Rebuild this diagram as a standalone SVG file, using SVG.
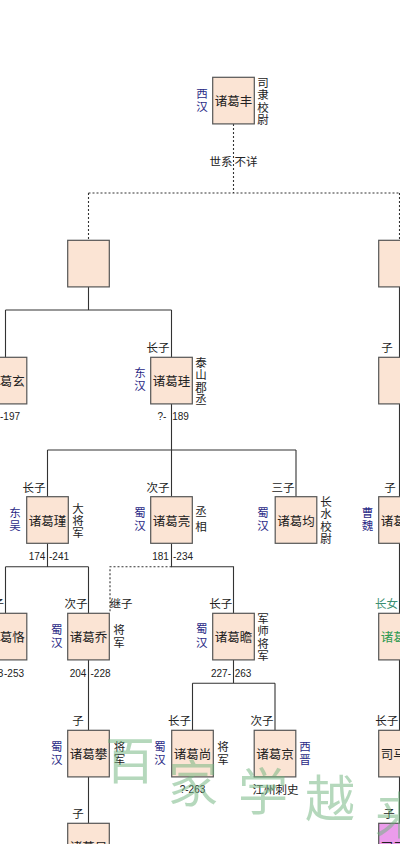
<svg xmlns="http://www.w3.org/2000/svg" width="400" height="844" viewBox="0 0 400 844">
<style>
.bg{fill:#ffffff}
.box{fill:#fbe4d4;stroke:#555;stroke-width:1.2}
.pink{fill:#eb9ceb;stroke:#555;stroke-width:1.2}
.ln{stroke:#333;stroke-width:1.1;fill:none}
.dl{stroke:#333;stroke-width:1.1;fill:none;stroke-dasharray:2,2}
text{font-family:"Noto Sans CJK SC","Noto Sans",sans-serif;dominant-baseline:central}
.nm{font-size:12.5px;fill:#222;text-anchor:middle}
.lb{font-size:11.5px;fill:#222;text-anchor:middle}
.v{writing-mode:vertical-rl;letter-spacing:1px}
.v2{writing-mode:vertical-rl;letter-spacing:2px}
.bl{font-size:11.5px;fill:#2a2a86;text-anchor:middle}
.gr{font-size:11.5px;fill:#3c8f72;text-anchor:middle}
.gn{font-size:12.5px;fill:#2e9a52;text-anchor:middle}
.dt{font-family:"Liberation Sans",Arial,sans-serif;font-size:10px;fill:#222;text-anchor:middle}
.wm{font-family:"Noto Sans CJK SC",serif;font-size:50px;fill:#6db37c;opacity:0.5;text-anchor:middle}
</style>
<rect class="bg" x="0" y="0" width="400" height="844"/>

<g id="connectors">
  <path class="dl" d="M233.5 124 V193 M88.5 193 H399.5 M88.5 193 V240.3 M399.5 193 V240.3"/>
  <path class="ln" d="M88.5 287 V310 M5.5 310 H171.5 M5.5 310 V357.3 M171.5 310 V357.3"/>
  <path class="ln" d="M171.5 404 V450 M47.5 450 H296 M47.5 450 V496.7 M171.5 450 V496.7 M296 450 V496.7"/>
  <path class="ln" d="M47.5 543.3 V566.7 M5.5 566.7 H88.5 M5.5 566.7 V613.3 M88.5 566.7 V613.3"/>
  <path class="ln" d="M171.5 543.3 V566.7 H233.5 V613.3"/>
  <path class="dl" d="M171.5 566.7 H110 V613.3"/>
  <path class="ln" d="M88.5 660 V730.3 M88.5 777 V823.3"/>
  <path class="ln" d="M233.5 660 V683.3 M192.5 683.3 H275 M192.5 683.3 V730.3 M275 683.3 V730.3"/>
  <path class="ln" d="M399.5 287 V357.3 M399.5 404 V496.7 M399.5 543.3 V613.3 M399.5 660 V730.3 M399.5 777 V823.3"/>
</g>

<g id="n-zhugefeng">
  <rect class="box" x="212.7" y="77.3" width="41.6" height="46.6"/>
  <text class="nm" x="233.5" y="100.6">诸葛丰</text>
  <text class="bl v2" x="202" y="101">西汉</text>
  <text class="lb v" x="263" y="101.5">司隶校尉</text>
  <text class="lb" x="221" y="161">世系</text>
  <text class="lb" x="246" y="161">不详</text>
</g>

<g id="n-unknown1">
  <rect class="box" x="67.7" y="240.3" width="41.6" height="46.6"/>
</g>
<g id="n-unknown2">
  <rect class="box" x="378.7" y="240.3" width="41.6" height="46.6"/>
</g>

<g id="n-zhugexuan">
  <rect class="box" x="-14.8" y="357.3" width="41.6" height="46.6"/>
  <text class="nm" x="6" y="380.6">诸葛玄</text>
  <text class="dt" x="0" y="416.5" style="text-anchor:start">-197</text>
</g>

<g id="n-zhugegui">
  <rect class="box" x="150.7" y="357.3" width="41.6" height="46.6"/>
  <text class="nm" x="171.5" y="380.6">诸葛珪</text>
  <text class="lb" x="158" y="346.7">长子</text>
  <text class="bl v2" x="140" y="380">东汉</text>
  <text class="lb v" x="201" y="381.8">泰山郡丞</text>
  <text class="dt" x="162" y="416.7">?-</text>
  <text class="dt" x="180.5" y="416.7">189</text>
</g>

<g id="n-unknown3">
  <rect class="box" x="378.7" y="357.3" width="41.6" height="46.6"/>
  <text class="lb" x="387" y="346.7">子</text>
</g>

<g id="n-zhugejin">
  <rect class="box" x="26.7" y="496.7" width="41.6" height="46.6"/>
  <text class="nm" x="47.5" y="520">诸葛瑾</text>
  <text class="lb" x="34" y="486.7">长子</text>
  <text class="bl v2" x="15" y="520">东吴</text>
  <text class="lb" x="78" y="520.5" style="writing-mode:vertical-rl;letter-spacing:0.3px">大将军</text>
  <text class="dt" x="37" y="556.7">174</text>
  <text class="dt" x="59" y="556.7">-241</text>
</g>

<g id="n-zhugeliang">
  <rect class="box" x="150.7" y="496.7" width="41.6" height="46.6"/>
  <text class="nm" x="171.5" y="520">诸葛亮</text>
  <text class="lb" x="158" y="486.7">次子</text>
  <text class="bl v2" x="140" y="520">蜀汉</text>
  <text class="lb" x="201" y="520.5" style="writing-mode:vertical-rl;letter-spacing:3px">丞相</text>
  <text class="dt" x="160.5" y="556.7">181</text>
  <text class="dt" x="183" y="556.7">-234</text>
</g>

<g id="n-zhugejun">
  <rect class="box" x="275.2" y="496.7" width="41.6" height="46.6"/>
  <text class="nm" x="296" y="520">诸葛均</text>
  <text class="lb" x="283" y="486.7">三子</text>
  <text class="bl v2" x="263" y="520">蜀汉</text>
  <text class="lb" x="326" y="520.5" style="writing-mode:vertical-rl;letter-spacing:0.7px">长水校尉</text>
</g>

<g id="n-zhugedan">
  <rect class="box" x="378.7" y="496.7" width="41.6" height="46.6"/>
  <text class="nm" x="399.5" y="520">诸葛诞</text>
  <text class="lb" x="390" y="486.7">子</text>
  <text class="bl v2" x="367.5" y="520">曹魏</text>
</g>

<g id="n-zhugeke">
  <rect class="box" x="-14.8" y="613.3" width="41.6" height="46.6"/>
  <text class="nm" x="6" y="636.6">诸葛恪</text>
  <text class="lb" x="4" y="603" style="text-anchor:end">长子</text>
  <text class="dt" x="3.3" y="673.3" style="text-anchor:end">203</text>
  <text class="dt" x="4" y="673.3" style="text-anchor:start">-253</text>
</g>

<g id="n-zhugeqiao">
  <rect class="box" x="67.7" y="613.3" width="41.6" height="46.6"/>
  <text class="nm" x="88.5" y="636.6">诸葛乔</text>
  <text class="lb" x="76" y="603">次子</text>
  <text class="lb" x="121" y="603">继子</text>
  <text class="bl v2" x="56.7" y="637">蜀汉</text>
  <text class="lb v" x="119" y="636.8">将军</text>
  <text class="dt" x="78" y="673.3">204</text>
  <text class="dt" x="100.5" y="673.3">-228</text>
</g>

<g id="n-zhugezhan">
  <rect class="box" x="212.7" y="613.3" width="41.6" height="46.6"/>
  <text class="nm" x="233.5" y="636.6">诸葛瞻</text>
  <text class="lb" x="220.7" y="603">长子</text>
  <text class="bl v2" x="201.7" y="636.5">蜀汉</text>
  <text class="lb v" x="263" y="637.5">军师将军</text>
  <text class="dt" x="221" y="673.3">227-</text>
  <text class="dt" x="243" y="673.3">263</text>
</g>

<g id="n-zhugeshi">
  <rect class="box" x="378.7" y="613.3" width="41.6" height="46.6"/>
  <text class="gn" x="399.5" y="636.6">诸葛氏</text>
  <text class="gr" x="386.5" y="603">长女</text>
</g>

<g id="n-zhugepan">
  <rect class="box" x="67.7" y="730.3" width="41.6" height="46.6"/>
  <text class="nm" x="88.5" y="753.6">诸葛攀</text>
  <text class="lb" x="78" y="720">子</text>
  <text class="bl v2" x="56.7" y="754">蜀汉</text>
  <text class="lb v2" x="119.5" y="754">将军</text>
</g>

<g id="n-zhugeshang">
  <rect class="box" x="171.7" y="730.3" width="41.6" height="46.6"/>
  <text class="nm" x="192.5" y="753.6">诸葛尚</text>
  <text class="lb" x="179.5" y="720">长子</text>
  <text class="bl v2" x="160" y="754">蜀汉</text>
  <text class="lb v2" x="223" y="754">将军</text>
  <text class="dt" x="192.5" y="789">?-263</text>
</g>

<g id="n-zhugejing">
  <rect class="box" x="254.2" y="730.3" width="41.6" height="46.6"/>
  <text class="nm" x="275" y="753.6">诸葛京</text>
  <text class="lb" x="262" y="720">次子</text>
  <text class="bl v2" x="305" y="754">西晋</text>
  <text class="lb" x="275.5" y="789">江州刺史</text>
</g>

<g id="n-simajin">
  <rect class="box" x="378.7" y="730.3" width="41.6" height="46.6"/>
  <text class="nm" x="399.5" y="753.6">司马觐</text>
  <text class="lb" x="386.7" y="720">长子</text>
</g>

<g id="n-zhugexian">
  <rect class="box" x="67.7" y="823.3" width="41.6" height="46.6"/>
  <text class="nm" x="88.5" y="846.6">诸葛显</text>
  <text class="lb" x="78" y="813.3">子</text>
</g>

<g id="n-simarui">
  <rect class="pink" x="378.7" y="823.3" width="41.6" height="46.6"/>
  <text class="nm" x="399.5" y="846.6">司马睿</text>
  <text class="lb" x="389" y="813">子</text>
</g>

<g id="watermark">
  <text class="wm" x="130" y="757">百</text>
  <text class="wm" x="193" y="780">家</text>
  <text class="wm" x="263" y="788">学</text>
  <text class="wm" x="330" y="795">越</text>
  <text class="wm" x="400" y="812">来</text>
</g>
</svg>
